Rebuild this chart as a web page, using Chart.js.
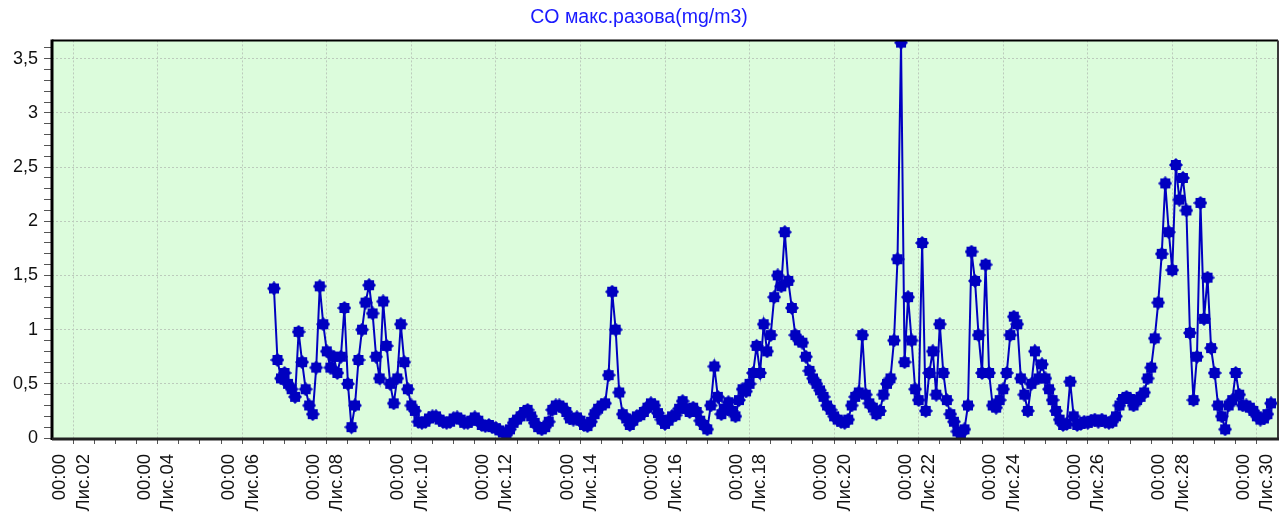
<!DOCTYPE html>
<html>
<head>
<meta charset="utf-8">
<script src="https://cdn.jsdelivr.net/npm/chart.js@4/dist/chart.umd.min.js"></script>
<style>
  html, body { margin: 0; padding: 0; background: #fff; }
  #wrap { width: 1288px; height: 515px; }
</style>
</head>
<body>
<div id="wrap"><canvas id="graph"></canvas></div>
<script>
var chartTitle = "CO макс.разова(mg/m3)";
var monthLabel = "Лис.";
var timeLabel = "00:00";

// days of the month and the 2-hour slots inside each day
var dayNumbers = [6, 7, 8, 9, 10, 11, 12, 13, 14, 15, 16, 17, 18, 19, 20, 21, 22, 23, 24, 25, 26, 27, 28, 29, 30];
var hourSlots = [0, 2, 4, 6, 8, 10, 12, 14, 16, 18, 20, 22];

// CO values, one row per day (null = no measurement)
var coByDay = [
  [null, null, null, null, null, null, null, null, null, 1.38, 0.72, 0.55],
  [0.6, 0.5, 0.45, 0.38, 0.98, 0.7, 0.45, 0.3, 0.22, 0.65, 1.4, 1.05],
  [0.8, 0.65, 0.75, 0.6, 0.75, 1.2, 0.5, 0.1, 0.3, 0.72, 1.0, 1.25],
  [1.41, 1.15, 0.75, 0.55, 1.26, 0.85, 0.5, 0.32, 0.55, 1.05, 0.7, 0.45],
  [0.3, 0.25, 0.15, 0.14, 0.15, 0.18, 0.2, 0.2, 0.17, 0.15, 0.14, 0.15],
  [0.18, 0.19, 0.17, 0.14, 0.14, 0.16, 0.19, 0.16, 0.12, 0.11, 0.12, 0.1],
  [0.09, 0.07, 0.05, 0.03, 0.08, 0.14, 0.17, 0.2, 0.24, 0.26, 0.2, 0.14],
  [0.1, 0.08, 0.1, 0.15, 0.26, 0.3, 0.3, 0.28, 0.24, 0.18, 0.17, 0.19],
  [0.16, 0.12, 0.11, 0.15, 0.22, 0.27, 0.3, 0.32, 0.58, 1.35, 1.0, 0.42],
  [0.22, 0.18, 0.12, 0.16, 0.2, 0.21, 0.24, 0.28, 0.32, 0.3, 0.23, 0.17],
  [0.13, 0.16, 0.2, 0.21, 0.27, 0.34, 0.27, 0.24, 0.28, 0.24, 0.16, 0.12],
  [0.08, 0.3, 0.66, 0.38, 0.22, 0.27, 0.33, 0.25, 0.2, 0.35, 0.45, 0.43],
  [0.5, 0.6, 0.85, 0.6, 1.05, 0.8, 0.95, 1.3, 1.5, 1.4, 1.9, 1.45],
  [1.2, 0.95, 0.9, 0.88, 0.75, 0.62, 0.55, 0.5, 0.44, 0.38, 0.3, 0.26],
  [0.2, 0.17, 0.15, 0.14, 0.17, 0.3, 0.38, 0.42, 0.95, 0.4, 0.32, 0.28],
  [0.22, 0.25, 0.4, 0.5, 0.55, 0.9, 1.65, 3.65, 0.7, 1.3, 0.9, 0.45],
  [0.35, 1.8, 0.25, 0.6, 0.8, 0.4, 1.05, 0.6, 0.35, 0.22, 0.15, 0.06],
  [0.04, 0.08, 0.3, 1.72, 1.45, 0.95, 0.6, 1.6, 0.6, 0.3, 0.28, 0.35],
  [0.45, 0.6, 0.95, 1.12, 1.05, 0.55, 0.4, 0.25, 0.5, 0.8, 0.55, 0.68],
  [0.55, 0.45, 0.35, 0.25, 0.17, 0.12, 0.13, 0.52, 0.2, 0.12, 0.13, 0.15],
  [0.14, 0.16, 0.17, 0.15, 0.17, 0.15, 0.14, 0.15, 0.2, 0.3, 0.36, 0.38],
  [0.36, 0.3, 0.35, 0.38, 0.42, 0.55, 0.65, 0.92, 1.25, 1.7, 2.35, 1.9],
  [1.55, 2.52, 2.2, 2.4, 2.1, 0.97, 0.35, 0.75, 2.17, 1.1, 1.48, 0.83],
  [0.6, 0.3, 0.2, 0.08, 0.3, 0.35, 0.6, 0.4, 0.3, 0.3, 0.28, 0.25],
  [0.2, 0.17, 0.18, 0.22, 0.32, null, null, null, null, null, null, null]
];

var xRange = [1.5, 30.5];
var yMax = 3.67;

var lineColor = "#0000c0";
var gridColor = "#bccbbc";
var plotBg = "#dcfcdc";
var fontFamily = "'Liberation Sans', Arial, sans-serif";

function buildPoints() {
  var pts = [];
  for (var i = 0; i < dayNumbers.length; i++) {
    for (var j = 0; j < hourSlots.length; j++) {
      var v = coByDay[i][j];
      if (v === null) continue;
      pts.push({ x: dayNumbers[i] + hourSlots[j] / 24, y: v });
    }
  }
  return pts;
}

// filled 8-point star marker
function makeStar(size, color) {
  var c = document.createElement("canvas");
  c.width = size;
  c.height = size;
  var g = c.getContext("2d");
  var m = size / 2;
  g.fillStyle = color;
  g.beginPath();
  for (var k = 0; k < 16; k++) {
    var a = (Math.PI * k) / 8;
    var r = k % 2 ? m * 0.78 : m;
    var px = m + r * Math.sin(a);
    var py = m - r * Math.cos(a);
    if (k === 0) g.moveTo(px, py);
    else g.lineTo(px, py);
  }
  g.closePath();
  g.fill();
  return c;
}

function isMajorY(v) {
  return Math.abs(v * 2 - Math.round(v * 2)) < 1e-9;
}

var plotFrame = {
  id: "plotFrame",
  beforeDraw: function (chart) {
    var a = chart.chartArea;
    var ctx = chart.ctx;
    ctx.save();
    ctx.fillStyle = plotBg;
    ctx.fillRect(a.left, a.top, a.right - a.left, a.bottom - a.top);
    ctx.restore();
  },
  afterDraw: function (chart) {
    var a = chart.chartArea;
    var ctx = chart.ctx;
    ctx.save();
    ctx.strokeStyle = "#000";
    ctx.lineWidth = 2;
    ctx.beginPath();
    ctx.moveTo(a.left, a.top);
    ctx.lineTo(a.right, a.top);
    ctx.stroke();
    ctx.strokeStyle = "#3a3a3a";
    ctx.beginPath();
    ctx.moveTo(a.right, a.top);
    ctx.lineTo(a.right, a.bottom);
    ctx.stroke();
    ctx.strokeStyle = "#000";
    ctx.lineWidth = 3;
    ctx.beginPath();
    ctx.moveTo(a.left, a.top - 1);
    ctx.lineTo(a.left, a.bottom + 2);
    ctx.stroke();
    ctx.strokeStyle = "#222";
    ctx.lineWidth = 3;
    ctx.beginPath();
    ctx.moveTo(a.left, a.bottom + 1);
    ctx.lineTo(a.right + 1, a.bottom + 1);
    ctx.stroke();
    ctx.restore();
  }
};

var ctx = document.getElementById("graph").getContext("2d");

var chart = new Chart(ctx, {
  type: "line",
  data: {
    datasets: [
      {
        label: chartTitle,
        data: buildPoints(),
        borderColor: lineColor,
        backgroundColor: lineColor,
        borderWidth: 2,
        pointStyle: makeStar(14, lineColor),
        pointRadius: 6,
        tension: 0,
      },
    ],
  },
  options: {
    responsive: true,
    maintainAspectRatio: false,
    animation: false,
    devicePixelRatio: 1,
    layout: { padding: { left: 0, right: 10, top: 0, bottom: 0 } },
    plugins: {
      legend: { display: false },
      tooltip: { enabled: false },
      title: {
        display: true,
        text: chartTitle,
        color: "#1a1aff",
        font: { family: fontFamily, size: 19.5, weight: "normal" },
        padding: { top: 6, bottom: 11 },
      },
    },
    scales: {
      x: {
        type: "linear",
        min: xRange[0],
        max: xRange[1],
        afterBuildTicks: function (s) {
          var t = [];
          for (var d = 2; d <= 30; d += 0.5) t.push({ value: d });
          s.ticks = t;
        },
        afterFit: function (s) {
          s.height = 77;
          s.paddingLeft = 0;
          s.paddingRight = 0;
        },
        ticks: {
          autoSkip: false,
          maxRotation: 90,
          minRotation: 90,
          padding: 10,
          labelOffset: -13,
          color: "#111",
          font: { family: fontFamily, size: 18.5, lineHeight: 1.27 },
          callback: function (v) {
            if (v % 2 !== 0) return "";
            return [timeLabel, monthLabel + (v < 10 ? "0" : "") + v];
          },
        },
        grid: {
          color: function (c) {
            return c.tick && c.tick.value % 2 === 0 ? gridColor : "rgba(0,0,0,0)";
          },
          tickColor: "#555",
          tickLength: 6,
          lineWidth: 1,
        },
        border: { display: false, dash: [2, 2] },
      },
      y: {
        type: "linear",
        min: 0,
        max: yMax,
        afterBuildTicks: function (s) {
          var t = [];
          for (var k = 0; k <= 36; k++) t.push({ value: k / 10 });
          s.ticks = t;
        },
        afterFit: function (s) {
          s.width = 52;
          s.paddingTop = 0;
          s.paddingBottom = 0;
        },
        ticks: {
          autoSkip: false,
          padding: 6,
          color: "#111",
          font: { family: fontFamily, size: 18 },
          callback: function (v) {
            return isMajorY(v) ? String(v).replace(".", ",") : "";
          },
        },
        grid: {
          color: function (c) {
            return c.tick && isMajorY(c.tick.value) && c.tick.value > 0 ? gridColor : "rgba(0,0,0,0)";
          },
          tickColor: "#555",
          tickLength: 8,
          lineWidth: 1,
        },
        border: { display: false, dash: [2, 2] },
      },
    },
  },
  plugins: [plotFrame],
});
</script>
</body>
</html>
